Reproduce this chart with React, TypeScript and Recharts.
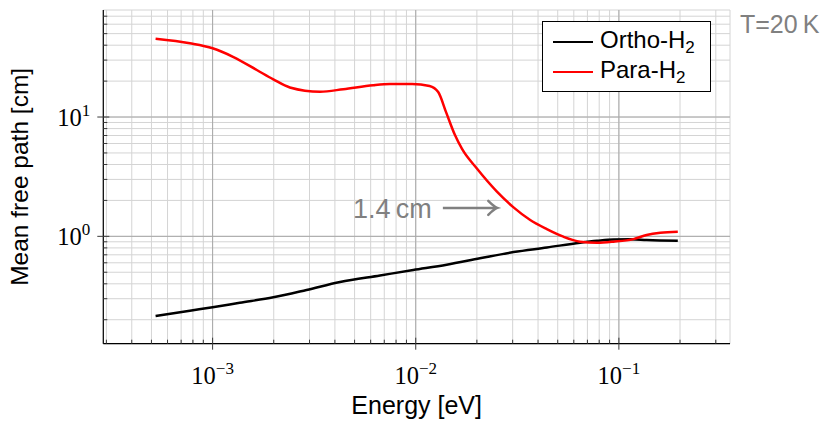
import React from "react";
import {
  LineChart,
  Line,
  XAxis,
  YAxis,
  CartesianGrid,
  ReferenceLine,
  Legend,
} from "recharts";

// energy [eV] / mean free path [cm]
const orthoEnergy = [
  5.24e-4, 7.73e-4, 1e-3, 1.36e-3, 1.99e-3, 2.9e-3, 4.24e-3, 6.67e-3, 9.72e-3,
  1.42e-2, 2.07e-2, 3.03e-2, 4.42e-2, 6.44e-2, 7.8e-2, 9.4e-2, 0.114, 0.137,
  0.195,
];
const orthoPath = [
  0.215, 0.238, 0.254, 0.277, 0.308, 0.355, 0.414, 0.47, 0.522, 0.578, 0.654,
  0.738, 0.806, 0.884, 0.918, 0.942, 0.944, 0.932, 0.918,
];

const paraEnergy = [
  5.24e-4, 7.73e-4, 1e-3, 1.26e-3, 1.65e-3, 1.99e-3, 2.4e-3, 3.38e-3, 4.4e-3,
  6.18e-3, 7.46e-3, 9.6e-3, 1.17e-2, 1.29e-2, 1.41e-2, 1.56e-2, 1.69e-2, 2.0e-2,
  2.51e-2, 3.03e-2, 3.66e-2, 4.42e-2, 5.33e-2, 6.44e-2, 7.8e-2, 9.4e-2, 0.118,
  0.137, 0.16, 0.195,
];
const paraPath = [
  45.3, 41.5, 37.7, 32.0, 24.8, 20.7, 17.7, 16.3, 17.1, 18.5, 18.9, 18.9, 18.2,
  16.2, 11.0, 7.06, 5.4, 3.7, 2.37, 1.75, 1.37, 1.15, 0.993, 0.902, 0.883,
  0.902, 0.948, 1.026, 1.072, 1.094,
];

const xDomain = [2.897e-4, 0.3524];
const yDomain = [0.1259, 78.9];

const xMajor = [1e-3, 1e-2, 1e-1];
const yMajor = [1, 10];
const xTicks = [
  3e-4, 4e-4, 5e-4, 6e-4, 7e-4, 8e-4, 9e-4, 1e-3, 2e-3, 3e-3, 4e-3, 5e-3, 6e-3,
  7e-3, 8e-3, 9e-3, 1e-2, 2e-2, 3e-2, 4e-2, 5e-2, 6e-2, 7e-2, 8e-2, 9e-2, 0.1,
  0.2, 0.3,
];
const yTicks = [
  0.2, 0.3, 0.4, 0.5, 0.6, 0.7, 0.8, 0.9, 1, 2, 3, 4, 5, 6, 7, 8, 9, 10, 20, 30,
  40, 50, 60, 70,
];

// annotation arrow "1.4 cm"
const arrowEnergy = [0.0136, 0.0252];
const arrowPath = 1.73;

const orthoData = orthoEnergy.map((e, i) => ({ e, mfp: orthoPath[i] }));
const paraData = paraEnergy.map((e, i) => ({ e, mfp: paraPath[i] }));

const SANS = "'Liberation Sans', Arial, sans-serif";
const SERIF = "'Liberation Serif', 'DejaVu Serif', serif";
const TICK = "#3a3a3a";
const GRAY = "#808080";

const isMajor = (v: number) =>
  Math.abs(Math.log10(v) - Math.round(Math.log10(v))) < 1e-9;

const expLabel = (v: number) => {
  const n = Math.round(Math.log10(v));
  return n < 0 ? `\u2212${-n}` : `${n}`;
};

const BottomTick = (props: any) => {
  const { x, y, payload } = props;
  const major = isMajor(payload.value);
  return (
    <g>
      <line
        x1={x}
        x2={x}
        y1={y - (major ? 6 : 4)}
        y2={y + (major ? 6 : 0)}
        stroke={TICK}
      />
      {major && (
        <text x={x} y={y + 40} textAnchor="middle" fontFamily={SERIF} fontSize={24.5} fill="#000">
          10
          <tspan dy={-10} fontSize={17}>
            {expLabel(payload.value)}
          </tspan>
        </text>
      )}
    </g>
  );
};

const TopTick = (props: any) => {
  const { x, y, payload } = props;
  const major = isMajor(payload.value);
  return (
    <line x1={x} x2={x} y1={y - (major ? 6 : 0)} y2={y + (major ? 6 : 4)} stroke={TICK} />
  );
};

const LeftTick = (props: any) => {
  const { x, y, payload } = props;
  const major = isMajor(payload.value);
  return (
    <g>
      <line x1={x - (major ? 6 : 0)} x2={x + (major ? 6 : 4)} y1={y} y2={y} stroke={TICK} />
      {major && (
        <text x={x - 13} y={y + 9} textAnchor="end" fontFamily={SERIF} fontSize={24.5} fill="#000">
          10
          <tspan dy={-10} fontSize={17}>
            {expLabel(payload.value)}
          </tspan>
        </text>
      )}
    </g>
  );
};

const RightTick = (props: any) => {
  const { x, y, payload } = props;
  const major = isMajor(payload.value);
  return (
    <line x1={x - (major ? 6 : 4)} x2={x + (major ? 6 : 0)} y1={y} y2={y} stroke={TICK} />
  );
};

const ArrowShape = (p: any) => {
  const { x1, y1, x2, y2 } = p;
  return (
    <g>
      <line x1={x1} y1={y1} x2={x2 - 1} y2={y2} stroke={GRAY} strokeWidth={2.5} />
      <path
        d={`M${x2 - 9},${y2 - 7} Q${x2 - 3},${y2 - 1} ${x2},${y2} Q${x2 - 3},${y2 + 1} ${x2 - 9},${y2 + 7}`}
        fill="none"
        stroke={GRAY}
        strokeWidth={2.5}
        strokeLinecap="round"
      />
      <text x={x1 - 11} y={y1 + 10} textAnchor="end" fontFamily={SANS} fontSize={27} fill={GRAY}>
        1.4{"\u2009"}cm
      </text>
    </g>
  );
};

const H2 = ({ name }: { name: string }) => (
  <span>
    {name}-H
    <span style={{ fontSize: 17, position: "relative", top: 5 }}>2</span>
  </span>
);

const LegendBox = () => {
  const rows = [
    { label: "Ortho", color: "#000" },
    { label: "Para", color: "#ff0000" },
  ];
  return (
    <div
      style={{
        position: "relative",
        width: 169,
        height: 71,
        boxSizing: "border-box",
        border: "1px solid #000",
        background: "#fff",
        fontFamily: SANS,
        fontSize: 24,
        color: "#000",
      }}
    >
      {rows.map((r, i) => (
        <React.Fragment key={r.label}>
          <div
            style={{
              position: "absolute",
              left: 10,
              top: 18.5 + i * 30,
              width: 40,
              height: 2.5,
              background: r.color,
            }}
          />
          <div
            style={{
              position: "absolute",
              left: 57,
              top: 2.7 + i * 30,
              lineHeight: "30px",
              whiteSpace: "nowrap",
            }}
          >
            <H2 name={r.label} />
          </div>
        </React.Fragment>
      ))}
    </div>
  );
};

const XLabel = (p: any) => {
  const { viewBox } = p;
  return (
    <text
      x={viewBox.x + viewBox.width / 2}
      y={viewBox.y + 70}
      textAnchor="middle"
      fontFamily={SANS}
      fontSize={25}
      fill="#000"
    >
      Energy [eV]
    </text>
  );
};

const YLabel = (p: any) => {
  const { viewBox } = p;
  const cx = viewBox.x + 28.5;
  const cy = viewBox.y + viewBox.height / 2;
  return (
    <text
      x={cx}
      y={cy}
      transform={`rotate(-90, ${cx}, ${cy})`}
      textAnchor="middle"
      fontFamily={SANS}
      fontSize={24.5}
      fill="#000"
    >
      Mean free path [cm]
    </text>
  );
};

export default function App() {
  return (
    <div style={{ position: "absolute", left: 0, top: 0, width: 824, height: 423, background: "#fff" }}>
      <LineChart width={824} height={423} margin={{ top: 10, right: 94, bottom: 0, left: 0 }}>
        <XAxis
          xAxisId="x"
          dataKey="e"
          type="number"
          scale="log"
          domain={xDomain}
          allowDataOverflow
          ticks={xTicks}
          interval={0}
          tickSize={0}
          tickMargin={0}
          tickLine={false}
          tick={<BottomTick />}
          height={79.3}
          axisLine={{ stroke: "#000", strokeWidth: 1.2 }}
          label={<XLabel />}
        />
        <XAxis
          xAxisId="top"
          orientation="top"
          type="number"
          scale="log"
          domain={xDomain}
          allowDataOverflow
          ticks={xTicks}
          interval={0}
          tickSize={0}
          tickMargin={0}
          tickLine={false}
          tick={<TopTick />}
          height={0}
          axisLine={{ stroke: "#000", strokeWidth: 1.2 }}
        />
        <YAxis
          yAxisId="y"
          type="number"
          scale="log"
          domain={yDomain}
          allowDataOverflow
          ticks={yTicks}
          interval={0}
          tickSize={0}
          tickMargin={0}
          tickLine={false}
          tick={<LeftTick />}
          width={103.3}
          axisLine={{ stroke: "#000", strokeWidth: 1.2 }}
          label={<YLabel />}
        />
        <YAxis
          yAxisId="right"
          orientation="right"
          type="number"
          scale="log"
          domain={yDomain}
          allowDataOverflow
          ticks={yTicks}
          interval={0}
          tickSize={0}
          tickMargin={0}
          tickLine={false}
          tick={<RightTick />}
          width={0}
          axisLine={{ stroke: "#000", strokeWidth: 1.2 }}
        />
        <CartesianGrid xAxisId="x" yAxisId="y" stroke="#d4d4d4" strokeWidth={1} />
        {xMajor.map((v) => (
          <ReferenceLine key={`gx${v}`} xAxisId="x" yAxisId="y" x={v} stroke="#a8a8a8" strokeWidth={1} />
        ))}
        {yMajor.map((v) => (
          <ReferenceLine key={`gy${v}`} xAxisId="x" yAxisId="y" y={v} stroke="#a8a8a8" strokeWidth={1} />
        ))}
        <ReferenceLine
          xAxisId="x"
          yAxisId="y"
          segment={[
            { x: arrowEnergy[0], y: arrowPath },
            { x: arrowEnergy[1], y: arrowPath },
          ]}
          shape={<ArrowShape />}
        />
        <Line
          xAxisId="x"
          yAxisId="y"
          data={orthoData}
          dataKey="mfp"
          name="Ortho-H2"
          type="monotone"
          stroke="#000"
          strokeWidth={2.5}
          dot={false}
          isAnimationActive={false}
        />
        <Line
          xAxisId="x"
          yAxisId="y"
          data={paraData}
          dataKey="mfp"
          name="Para-H2"
          type="monotone"
          stroke="#ff0000"
          strokeWidth={2.5}
          dot={false}
          isAnimationActive={false}
        />
        <Legend
          layout="horizontal"
          verticalAlign="middle"
          align="center"
          wrapperStyle={{ top: 21, left: 542, width: 169, height: 71 }}
          content={() => <LegendBox />}
        />
      </LineChart>
      <div
        style={{
          position: "absolute",
          left: 740,
          top: 12,
          fontFamily: SANS,
          fontSize: 25,
          lineHeight: 1,
          color: GRAY,
          whiteSpace: "nowrap",
        }}
      >
        T=20{"\u2009"}K
      </div>
    </div>
  );
}
